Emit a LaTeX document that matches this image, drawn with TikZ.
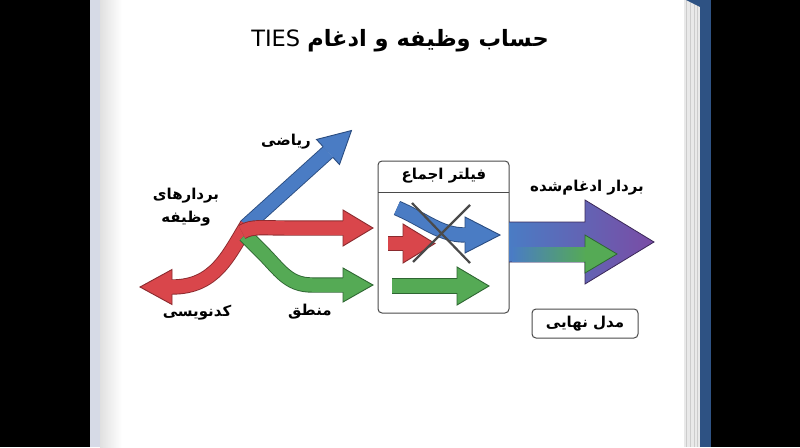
\documentclass[tikz,border=0pt]{standalone}
\usepackage{fontspec}
\usetikzlibrary{calc}
\TeXXeTstate=1
\newfontfamily\arfont[Script=Arabic]{DejaVu Sans}
\newcommand\rtltext[1]{{\arfont\bfseries\beginR #1\endR}}
\definecolor{bfill}{HTML}{4A7CC4}
\definecolor{bline}{HTML}{2A4C80}
\definecolor{rfill}{HTML}{D9464B}
\definecolor{rline}{HTML}{8A2A2E}
\definecolor{gfill}{HTML}{55AA55}
\definecolor{gline}{HTML}{2E6632}
\definecolor{pfill}{HTML}{7A4CA5}
\definecolor{pline}{HTML}{3B2858}
\definecolor{xgray}{HTML}{4A4A4A}
\definecolor{spine}{HTML}{2E5283}
\definecolor{leftedge}{HTML}{D6DAE6}
\definecolor{pagesgray}{HTML}{E9E9E9}
\definecolor{pagesline}{HTML}{CCCCCC}
\tikzset{
  shaftstyle/.style 2 args={line width=0.9pt, draw=#2, double=#1, double distance=13.5pt},
  lbl/.style={inner sep=1pt, font=\fontsize{15}{18}\selectfont},
  boxline/.style={draw=xgray, line width=1pt, rounded corners=4pt}
}
% head: #1 base coordinate, #2 tip coordinate, #3 head half width, #4 fill, #5 outline
\newcommand\arrhead[5]{%
  \fill[#4] ($(#1)!#3!90:(#2)$) -- (#2) -- ($(#1)!#3!-90:(#2)$) -- cycle;
  \draw[#5, line width=0.9pt, line join=miter]
    ($(#1)!7.2pt!90:(#2)$) -- ($(#1)!#3!90:(#2)$) -- (#2) -- ($(#1)!#3!-90:(#2)$) -- ($(#1)!7.2pt!-90:(#2)$);
}
\begin{document}
\begin{tikzpicture}[x=1pt,y=-1pt]
\useasboundingbox (0,0) rectangle (800,447);
% background and page
\fill[black] (0,0) rectangle (800,447);
\fill[white] (100,0) rectangle (684,447);
\fill[leftedge] (90,0) rectangle (100,447);
\shade[left color=black!12, right color=white] (100,0) rectangle (122,447);
\fill[pagesgray] (684,0) rectangle (700,447);
\foreach \xx in {686,690,694,697} \draw[pagesline, line width=0.7pt] (\xx,0) -- (\xx,447);
\fill[spine] (700,0) rectangle (711,447);
\fill[spine] (686,0) -- (700,7) -- (700,0) -- cycle;

% title
\node (title) at (400,41) {\arfont\fontsize{22.5}{27}\selectfont\beginR{\bfseries حساب وظیفه و ادغام} \beginL TIES\endL\endR};

% coordinates
\coordinate (J) at (245,227);
\coordinate (bB) at (328,152);
\coordinate (bT) at (351.5,130.5);

% blue (math)
\draw[shaftstyle={bfill}{bline}] (J) -- (bB);
\arrhead{bB}{bT}{17pt}{bfill}{bline}
% red left (coding)
\coordinate (rlB) at (172,287); \coordinate (rlT) at (140,287);
\draw[shaftstyle={rfill}{rline}] (247,225) .. controls (228,256) and (215,287) .. (rlB);
\arrhead{rlB}{rlT}{17.5pt}{rfill}{rline}
% green (logic)
\coordinate (gB) at (343,285); \coordinate (gT) at (373,285);
\draw[shaftstyle={gfill}{gline}] (245,235) -- (262,252) .. controls (280,270) and (288,285) .. (312,285) -- (gB);
\arrhead{gB}{gT}{17pt}{gfill}{gline}
% red right
\coordinate (rrB) at (343,228); \coordinate (rrT) at (373,228);
\draw[shaftstyle={rfill}{rline}] (242,232) .. controls (252,226) and (262,228) .. (285,228) -- (rrB);
\arrhead{rrB}{rrT}{18pt}{rfill}{rline}

% labels
\node[lbl] (math) at (286,142) {\rtltext{ریاضی}};
\node[lbl, align=center] (tv) at (186,207) {\rtltext{بردارهای}\\[5pt]\rtltext{وظیفه}};
\node[lbl] (code) at (197,313) {\rtltext{کدنویسی}};
\node[lbl] (logic) at (310,312) {\rtltext{منطق}};

% filter box
\draw[boxline] (378,161) rectangle (509,313);
\draw[xgray, line width=1pt] (378,192) -- (509,192);
\node[lbl] (filter) at (444,176) {\rtltext{فیلتر اجماع}};

% inner red
\coordinate (irB) at (403,243.5); \coordinate (irT) at (435,243.5);
\draw[shaftstyle={rfill}{rline}] (388,243.5) -- (irB);
\arrhead{irB}{irT}{19.5pt}{rfill}{rline}
% inner blue
\coordinate (ibB) at (465,235); \coordinate (ibT) at (500,235);
\draw[white, line width=19pt] (400,209) .. controls (425,220) and (440,235) .. (ibB);
\draw[shaftstyle={bfill}{bline}] (397,208) .. controls (425,220) and (440,235) .. (ibB);
\arrhead{ibB}{ibT}{18pt}{bfill}{bline}
% inner green
\coordinate (igB) at (457,286); \coordinate (igT) at (489,286);
\draw[shaftstyle={gfill}{gline}] (392,286) -- (igB);
\arrhead{igB}{igT}{19pt}{gfill}{gline}
% cross
\draw[xgray, line width=2.2pt] (412,203) -- (470,263);
\draw[xgray, line width=2.2pt] (470,205) -- (413,262);

% merged arrow
\shade[left color=bfill, middle color=pfill, right color=pfill]
  (509,222) -- (585,222) -- (585,200) -- (654,242) -- (585,284) -- (585,262) -- (509,262) -- cycle;
\draw[pline, line width=0.8pt, line join=miter]
  (509,222) -- (585,222) -- (585,200) -- (654,242) -- (585,284) -- (585,262) -- (509,262);
\shade[left color=bfill, middle color=gfill, right color=gfill] (512,247) rectangle (586,261.5);
\fill[gfill] (585,235) -- (617,254) -- (585,273) -- cycle;
\draw[gline, line width=0.8pt, line join=miter] (585,247) -- (585,235) -- (617,254) -- (585,273) -- (585,261.5);
\node[lbl] (merged) at (587,188) {\rtltext{بردار ادغام‌شده}};

% final model box
\node[boxline, minimum width=106pt, minimum height=29pt, inner sep=0pt, font=\fontsize{15}{18}\selectfont] (final) at (585,323.5) {\rtltext{مدل نهایی}};
\end{tikzpicture}
\end{document}
